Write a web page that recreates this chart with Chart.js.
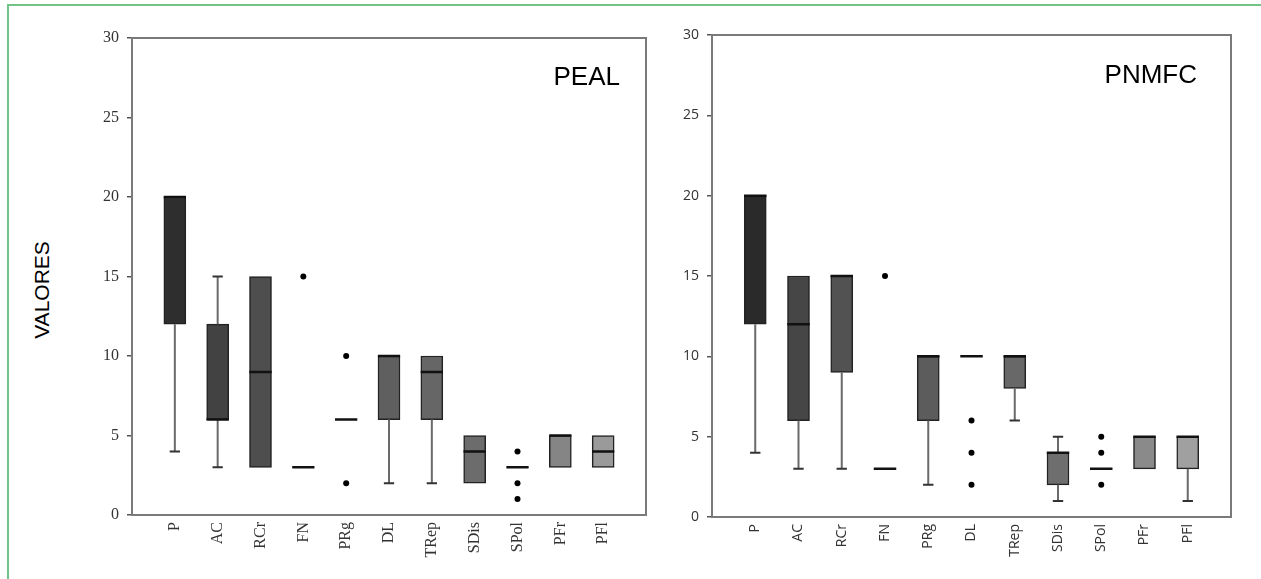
<!DOCTYPE html>
<html>
<head>
<meta charset="utf-8">
<script src="https://cdn.jsdelivr.net/npm/chart.js@4.4.1/dist/chart.umd.min.js"></script>
<style>
  body { margin: 0; background: #fff; }
  #wrap { position: relative; width: 1261px; height: 579px; overflow: hidden; }
  #frame { position: absolute; left: 7px; top: 4px; width: 1300px; height: 600px;
           border-top: 2px solid #72c486; border-left: 2px solid #72c486; }
  #valores { position: absolute; left: 42px; top: 290px; transform: translate(-50%, -50%) rotate(-90deg);
             font: 21px "Liberation Sans", Arial, sans-serif; color: #000; white-space: nowrap; }
  canvas { position: absolute; top: 0; }
  #peal { left: 0; }
  #pnmfc { left: 660px; }
</style>
</head>
<body>
<div id="wrap">
  <div id="frame"></div>
  <div id="valores">VALORES</div>
  <canvas id="peal" width="660" height="579"></canvas>
  <canvas id="pnmfc" width="601" height="579"></canvas>
</div>
<script>
// categorias
const categories = ['P', 'AC', 'RCr', 'FN', 'PRg', 'DL', 'TRep', 'SDis', 'SPol', 'PFr', 'PFl'];
const yTicks = [0, 5, 10, 15, 20, 25, 30];

// PEAL
const pealLow    = [4, 3, 3, 3, 6, 2, 2, 2, 3, 3, 3];
const pealQ1     = [12, 6, 3, 3, 6, 6, 6, 2, 3, 3, 3];
const pealMedian = [20, 6, 9, 3, 6, 10, 9, 4, 3, 5, 4];
const pealQ3     = [20, 12, 15, 3, 6, 10, 10, 5, 3, 5, 5];
const pealHigh   = [20, 15, 15, 3, 6, 10, 10, 5, 3, 5, 5];
const pealOutliers = [[], [], [], [15], [10, 2], [], [], [], [4, 2, 1], [], []];
const pealColors = ['#2e2e2e', '#424242', '#4e4e4e', '#555555', '#5a5a5a', '#5f5f5f',
                    '#666666', '#6c6c6c', '#777777', '#858585', '#9a9a9a'];

// PNMFC
const pnmfcLow    = [4, 3, 3, 3, 2, 10, 6, 1, 3, 3, 1];
const pnmfcQ1     = [12, 6, 9, 3, 6, 10, 8, 2, 3, 3, 3];
const pnmfcMedian = [20, 12, 15, 3, 10, 10, 10, 4, 3, 5, 5];
const pnmfcQ3     = [20, 15, 15, 3, 10, 10, 10, 4, 3, 5, 5];
const pnmfcHigh   = [20, 15, 15, 3, 10, 10, 10, 5, 3, 5, 5];
const pnmfcOutliers = [[], [], [], [15], [], [6, 4, 2], [], [], [5, 4, 2], [], []];
const pnmfcColors = ['#2a2a2a', '#464646', '#525252', '#555555', '#5c5c5c', '#606060',
                     '#686868', '#6e6e6e', '#777777', '#8a8a8a', '#a0a0a0'];

// marco del área y texto de la muestra
const framePlugin = {
  id: 'frame',
  afterDraw(chart, args, o) {
    const ctx = chart.ctx, a = chart.chartArea;
    ctx.save();
    ctx.strokeStyle = '#7a7a7a';
    ctx.lineWidth = 2;
    ctx.strokeRect(a.left, a.top, a.right - a.left, a.bottom - a.top);
    ctx.font = '26px "Liberation Sans", Arial, sans-serif';
    ctx.fillStyle = '#000';
    ctx.textAlign = 'right';
    ctx.textBaseline = 'alphabetic';
    ctx.fillText(o.text, a.right - o.dx, a.top + o.dy);
    ctx.restore();
  }
};

function boxChart(id, d) {
  const boxes = [], whiskers = [], caps = [], medians = [], dots = [];
  categories.forEach((c, i) => {
    const x = i + 1;
    if (d.q3[i] > d.q1[i]) boxes.push({x: x, y: [d.q1[i], d.q3[i]]});
    if (d.low[i] < d.q1[i]) {
      whiskers.push({x: x, y: d.low[i]}, {x: x, y: d.q1[i]}, {x: x, y: null});
      caps.push({x: x - 0.12, y: d.low[i]}, {x: x + 0.12, y: d.low[i]}, {x: x, y: null});
    }
    if (d.high[i] > d.q3[i]) {
      whiskers.push({x: x, y: d.q3[i]}, {x: x, y: d.high[i]}, {x: x, y: null});
      caps.push({x: x - 0.12, y: d.high[i]}, {x: x + 0.12, y: d.high[i]}, {x: x, y: null});
    }
    medians.push({x: x - 0.26, y: d.median[i]}, {x: x + 0.26, y: d.median[i]}, {x: x, y: null});
    d.outliers[i].forEach(v => dots.push({x: x, y: v}));
  });
  const boxColors = boxes.map(b => d.colors[b.x - 1]);
  const font = {family: d.font, size: d.fontSize};

  return new Chart(document.getElementById(id), {
    type: 'bar',
    data: {
      datasets: [
        {type: 'scatter', data: dots, pointRadius: 3, pointBackgroundColor: '#000',
         pointBorderWidth: 0, order: 0},
        {type: 'line', data: medians, borderColor: '#111', borderWidth: 2.5,
         pointRadius: 0, spanGaps: false, order: 1},
        {type: 'line', data: caps, borderColor: '#333', borderWidth: 2,
         pointRadius: 0, spanGaps: false, order: 2},
        {type: 'line', data: whiskers, borderColor: '#6a6a6a', borderWidth: 2,
         pointRadius: 0, spanGaps: false, order: 3},
        {type: 'bar', data: boxes, backgroundColor: boxColors, borderColor: '#222',
         borderWidth: 1.5, borderSkipped: false, barThickness: 22, order: 4}
      ]
    },
    options: {
      responsive: false,
      animation: false,
      devicePixelRatio: 1,
      layout: {padding: {left: 0, top: d.top, right: d.right, bottom: 0}},
      plugins: {
        legend: {display: false},
        tooltip: {enabled: false},
        frame: {text: d.title, dx: d.dx, dy: d.dy}
      },
      scales: {
        x: {
          type: 'linear', min: 0, max: 12, offset: false,
          afterBuildTicks: s => { s.ticks = categories.map((c, i) => ({value: i + 1})); },
          afterFit: s => { s.height = d.xHeight; },
          grid: {display: false, drawTicks: false, offset: false},
          border: {display: true, color: '#7a7a7a', width: 2},
          ticks: {
            autoSkip: false, minRotation: 90, maxRotation: 90, padding: 7,
            color: '#333', font: font,
            callback: v => categories[v - 1] || ''
          }
        },
        y: {
          min: 0, max: 30,
          afterBuildTicks: s => { s.ticks = yTicks.map(v => ({value: v})); },
          afterFit: s => { s.width = d.yWidth; },
          grid: {drawOnChartArea: false, drawTicks: true, tickLength: 5, color: '#555', lineWidth: 1.5},
          border: {display: true, color: '#7a7a7a', width: 2},
          ticks: {color: '#333', font: font, padding: 8}
        }
      }
    },
    plugins: [framePlugin]
  });
}

boxChart('peal', {
  low: pealLow, q1: pealQ1, median: pealMedian, q3: pealQ3, high: pealHigh,
  outliers: pealOutliers, colors: pealColors, title: 'PEAL',
  font: '"Liberation Serif", "Times New Roman", serif', fontSize: 16,
  top: 38, right: 14, xHeight: 64, yWidth: 132, dx: 26, dy: 47
});

boxChart('pnmfc', {
  low: pnmfcLow, q1: pnmfcQ1, median: pnmfcMedian, q3: pnmfcQ3, high: pnmfcHigh,
  outliers: pnmfcOutliers, colors: pnmfcColors, title: 'PNMFC',
  font: '"Open Sans", "DejaVu Sans", sans-serif', fontSize: 14,
  top: 35, right: 30, xHeight: 62, yWidth: 52, dx: 34, dy: 48
});
</script>
</body>
</html>
